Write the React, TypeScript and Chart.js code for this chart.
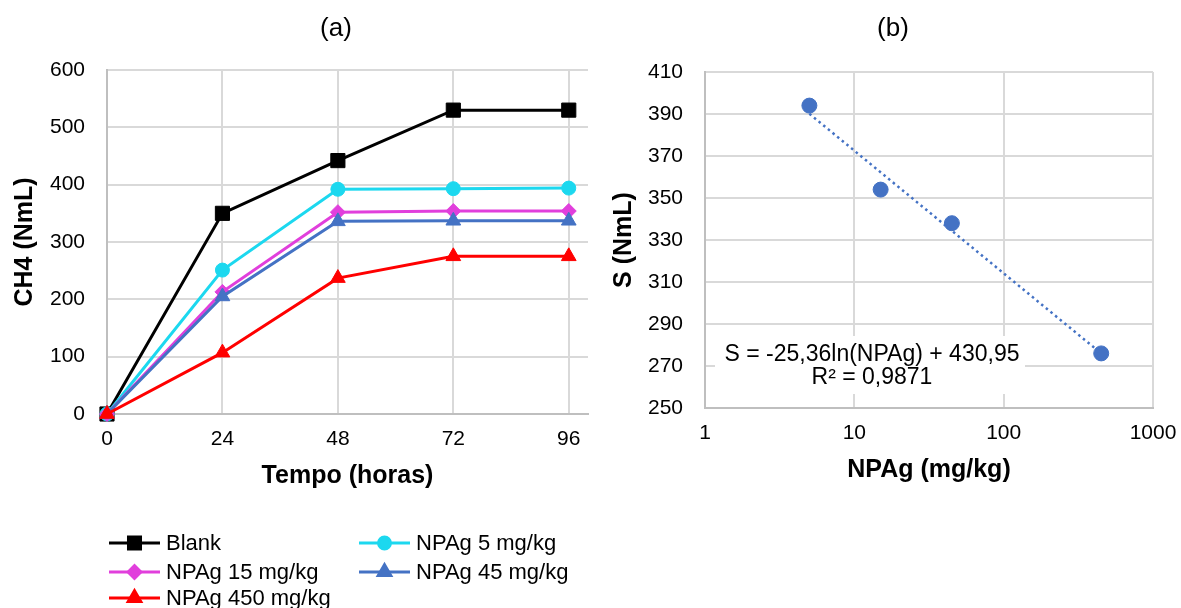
import React, { useEffect, useRef } from 'react';
import { Chart, registerables } from 'chart.js';
import { drawPoint } from 'chart.js/helpers';

Chart.register(...registerables);

const FONT = '"Liberation Sans", Arial, sans-serif';

// ---- Chart (a) data ----
const hours = [0, 24, 48, 72, 96];
const hourTicks = [0, 24, 48, 72, 96];
const blank = [0, 350, 442, 530, 530];
const npag5 = [0, 251, 392, 393, 394];
const npag15 = [0, 213, 352, 354, 354];
const npag45 = [0, 205, 336, 337, 337];
const npag450 = [0, 107, 237, 275, 275];
const seriesLabels = ['Blank', 'NPAg 5 mg/kg', 'NPAg 15 mg/kg', 'NPAg 45 mg/kg', 'NPAg 450 mg/kg'];
const seriesColors = ['#000000', '#1CD8EF', '#E13FDC', '#4472C4', '#FF0000'];
const seriesStyles = ['rect', 'circle', 'rectRot', 'triangle', 'triangle'];
const seriesRadius = [10, 7, 7.5, 8.5, 8.5];
const seriesValues = [blank, npag5, npag15, npag45, npag450];

// ---- Chart (b) data ----
const doses = [5, 15, 45, 450];
const sValues = [394, 354, 338, 276];
const doseTicks = [1, 10, 100, 1000];
const trendX = [5, 450];
const trendY = [390.1, 276.0];
const equationLines = ['S = -25,36ln(NPAg) + 430,95', 'R² = 0,9871'];

const GRID = '#D9D9D9';
const BORDER = '#BFBFBF';
const TEXT = '#000000';

function ChartA() {
  const ref = useRef<HTMLCanvasElement>(null);
  useEffect(() => {
    const legendPlugin = {
      id: 'legendA',
      afterDraw(chart: any) {
        const ctx = chart.ctx as CanvasRenderingContext2D;
        ctx.save();
        ctx.fillStyle = TEXT;
        ctx.font = `26px ${FONT}`;
        ctx.textAlign = 'center';
        ctx.textBaseline = 'middle';
        ctx.fillText('(a)', 336, 29);
        const slots = [
          { x1: 109, x2: 160, y: 543, tx: 166 },
          { x1: 359, x2: 410, y: 543, tx: 416 },
          { x1: 109, x2: 160, y: 572, tx: 166 },
          { x1: 359, x2: 410, y: 572, tx: 416 },
          { x1: 109, x2: 160, y: 598, tx: 166 },
        ];
        seriesLabels.forEach((label, i) => {
          const s = slots[i];
          ctx.strokeStyle = seriesColors[i];
          ctx.lineWidth = 3;
          ctx.beginPath();
          ctx.moveTo(s.x1, s.y);
          ctx.lineTo(s.x2, s.y);
          ctx.stroke();
          ctx.fillStyle = seriesColors[i];
          drawPoint(ctx, { pointStyle: seriesStyles[i], radius: seriesRadius[i] * 0.85, borderWidth: 1, rotation: 0 } as any, (s.x1 + s.x2) / 2, s.y);
          ctx.fillStyle = TEXT;
          ctx.font = `22px ${FONT}`;
          ctx.textAlign = 'left';
          ctx.textBaseline = 'middle';
          ctx.fillText(label, s.tx, s.y + 1);
        });
        ctx.restore();
      },
    };
    const n = seriesLabels.length;
    const chart = new Chart(ref.current!, {
      type: 'line',
      data: {
        datasets: seriesLabels.map((label, i) => ({
          label,
          data: hours.map((h, j) => ({ x: h, y: seriesValues[i][j] })),
          borderColor: seriesColors[i],
          backgroundColor: seriesColors[i],
          pointBackgroundColor: seriesColors[i],
          pointBorderColor: seriesColors[i],
          pointStyle: seriesStyles[i] as any,
          pointRadius: seriesRadius[i],
          pointBorderWidth: 1,
          borderWidth: 3,
          tension: 0,
          clip: false as any,
          order: n - i,
        })),
      },
      options: {
        responsive: false,
        devicePixelRatio: 1,
        animation: false,
        events: [],
        layout: { padding: { top: 70, left: 7, right: 12, bottom: 114 } },
        plugins: { legend: { display: false }, tooltip: { enabled: false }, title: { display: false } },
        scales: {
          x: {
            type: 'linear',
            min: 0,
            max: 100,
            afterBuildTicks: (scale: any) => {
              scale.ticks = hourTicks.map((v) => ({ value: v }));
            },
            afterFit: (scale: any) => {
              scale.height = 80;
              scale.paddingLeft = 0;
              scale.paddingRight = 0;
            },
            grid: { color: GRID, lineWidth: 2, drawTicks: false },
            border: { color: BORDER, width: 2 },
            ticks: { color: TEXT, font: { size: 21, family: FONT }, padding: 13, maxRotation: 0 },
            title: {
              display: true,
              text: 'Tempo (horas)',
              color: TEXT,
              font: { size: 25, weight: 'bold', family: FONT },
              padding: { top: 0, bottom: 3 },
            },
          },
          y: {
            type: 'linear',
            min: 0,
            max: 600,
            ticks: { stepSize: 100, color: TEXT, font: { size: 21, family: FONT }, padding: 22 },
            afterFit: (scale: any) => {
              scale.width = 100;
            },
            grid: { color: GRID, lineWidth: 2, drawTicks: false },
            border: { color: BORDER, width: 2 },
            title: {
              display: true,
              text: 'CH4 (NmL)',
              color: TEXT,
              font: { size: 25, weight: 'bold', family: FONT },
              padding: { top: 3, bottom: 0 },
            },
          },
        },
      },
      plugins: [legendPlugin],
    } as any);
    return () => chart.destroy();
  }, []);
  return (
    <canvas
      ref={ref}
      width={600}
      height={608}
      style={{ position: 'absolute', left: 0, top: 0, width: 600, height: 608 }}
    />
  );
}

function ChartB() {
  const ref = useRef<HTMLCanvasElement>(null);
  useEffect(() => {
    const annotPlugin = {
      id: 'annotB',
      afterDraw(chart: any) {
        const ctx = chart.ctx as CanvasRenderingContext2D;
        ctx.save();
        ctx.fillStyle = TEXT;
        ctx.font = `26px ${FONT}`;
        ctx.textAlign = 'center';
        ctx.textBaseline = 'middle';
        ctx.fillText('(b)', 293, 29);
        ctx.restore();
      },
      afterDatasetsDraw(chart: any) {
        const ctx = chart.ctx as CanvasRenderingContext2D;
        ctx.save();
        ctx.fillStyle = '#FFFFFF';
        ctx.fillRect(115, 336, 310, 58);
        ctx.fillStyle = TEXT;
        ctx.font = `23px ${FONT}`;
        ctx.textAlign = 'center';
        ctx.textBaseline = 'middle';
        ctx.fillText(equationLines[0], 272, 355);
        ctx.fillText(equationLines[1], 272, 378);
        ctx.restore();
      },
    };
    const chart = new Chart(ref.current!, {
      type: 'scatter',
      data: {
        datasets: [
          {
            label: 'S',
            data: doses.map((d, i) => ({ x: d, y: sValues[i] })),
            backgroundColor: '#4472C4',
            borderColor: '#4472C4',
            pointRadius: 7.5,
            pointBorderWidth: 1,
            showLine: false,
            clip: false as any,
            order: 2,
          },
          {
            label: 'trend',
            data: trendX.map((d, i) => ({ x: d, y: trendY[i] })),
            borderColor: '#4472C4',
            backgroundColor: '#4472C4',
            borderWidth: 2.5,
            borderDash: [2.5, 3.5],
            pointRadius: 0,
            showLine: true,
            order: 1,
          },
        ],
      },
      options: {
        responsive: false,
        devicePixelRatio: 1,
        animation: false,
        events: [],
        layout: { padding: { top: 72, left: 5, right: 28, bottom: 120 } },
        plugins: { legend: { display: false }, tooltip: { enabled: false }, title: { display: false } },
        scales: {
          x: {
            type: 'logarithmic',
            min: 1,
            max: 1000,
            afterBuildTicks: (scale: any) => {
              scale.ticks = doseTicks.map((v) => ({ value: v }));
            },
            afterFit: (scale: any) => {
              scale.height = 80;
              scale.paddingLeft = 0;
              scale.paddingRight = 0;
            },
            grid: { color: GRID, lineWidth: 2, drawTicks: false },
            border: { color: BORDER, width: 2 },
            ticks: {
              color: TEXT,
              font: { size: 21, family: FONT },
              padding: 13,
              maxRotation: 0,
              callback: (v: any) => String(v),
            },
            title: {
              display: true,
              text: 'NPAg (mg/kg)',
              color: TEXT,
              font: { size: 25, weight: 'bold', family: FONT },
              padding: { top: 0, bottom: 3 },
            },
          },
          y: {
            type: 'linear',
            min: 250,
            max: 410,
            ticks: { stepSize: 20, color: TEXT, font: { size: 21, family: FONT }, padding: 22 },
            afterFit: (scale: any) => {
              scale.width = 100;
            },
            grid: { color: GRID, lineWidth: 2, drawTicks: false },
            border: { color: BORDER, width: 2 },
            title: {
              display: true,
              text: 'S (NmL)',
              color: TEXT,
              font: { size: 25, weight: 'bold', family: FONT },
              padding: { top: 4, bottom: 0 },
            },
          },
        },
      },
      plugins: [annotPlugin],
    } as any);
    return () => chart.destroy();
  }, []);
  return (
    <canvas
      ref={ref}
      width={581}
      height={608}
      style={{ position: 'absolute', left: 600, top: 0, width: 581, height: 608 }}
    />
  );
}

export default function App() {
  return (
    <div
      style={{
        position: 'absolute',
        left: 0,
        top: 0,
        width: 1181,
        height: 608,
        background: '#FFFFFF',
        overflow: 'hidden',
      }}
    >
      <ChartA />
      <ChartB />
    </div>
  );
}
